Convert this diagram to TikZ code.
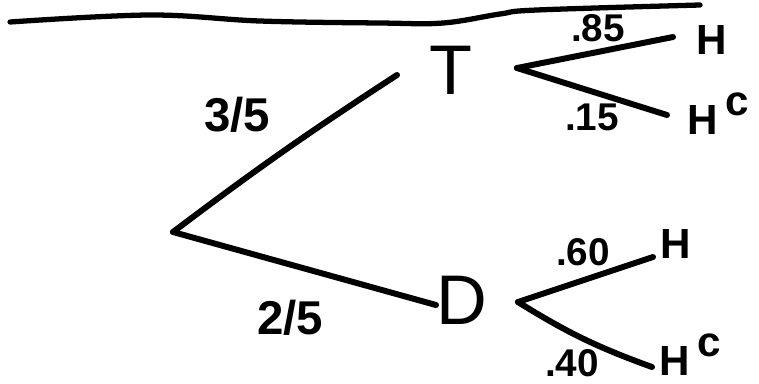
\documentclass[tikz,border=0pt]{standalone}
\usepackage{fontspec}
\setmainfont{Liberation Sans}
\usetikzlibrary{positioning}

\begin{document}
\begin{tikzpicture}[x=0.02cm, y=-0.02cm,
  ev/.style={inner sep=0pt, font=\fontsize{40}{42}\selectfont},
  res/.style={inner sep=0pt, font=\fontsize{24}{26}\selectfont\bfseries},
  pr/.style={inner sep=0pt, font=\fontsize{22}{24}\selectfont\bfseries},
  br/.style={line width=3.4pt, line cap=round, line join=round},
]
\useasboundingbox (0,0) rectangle (759,383);

% ruled line at the top
\draw[br, line width=3pt] plot[smooth, tension=0.6] coordinates
  {(10,22) (150,15) (260,21) (380,23) (443,23) (500,14) (537,10) (700,5)};

% stages
\coordinate (r) at (173,232);
\node[ev] (T) at (451,70) {T};
\node[ev] (D) at (462,300) {D};
\coordinate (Tin) at (397,75);
\coordinate (Din) at (436,305);
\coordinate (Tout) at (517,68);
\coordinate (Dout) at (518,302);

% outcomes
\node[res] (h1) at (712,40) {H};
\node[res] (hc1) at (718,114) {H\raisebox{0.45em}{\,c}};
\node[res] (h2) at (676,244) {H};
\node[res] (hc2) at (690,355) {H\raisebox{0.45em}{\,c}};
\coordinate (h1e) at (673,37);
\coordinate (hc1e) at (667,115);
\coordinate (h2e) at (653,257);
\coordinate (hc2e) at (652,367);

\draw[br] (r) to[bend left=2] (Tin);
\draw[br] (r) -- (Din);
\draw[br] (Tout) -- (h1e);
\draw[br] (Tout) -- (hc1e);
\draw[br] (Dout) -- (h2e);
\draw[br] (Dout) to[bend right=6] (hc2e);

% probabilities
\node[pr, font=\fontsize{27}{29}\selectfont\bfseries] (p1) at (237,115) {3/5};
\node[pr, font=\fontsize{27}{29}\selectfont\bfseries] (p2) at (290,318) {2/5};
\node[pr] (p3) at (598,28) {.85};
\node[pr] (p4) at (592,117) {.15};
\node[pr] (p5) at (583,252) {.60};
\node[pr] (p6) at (572,363) {.40};
\end{tikzpicture}
\end{document}
